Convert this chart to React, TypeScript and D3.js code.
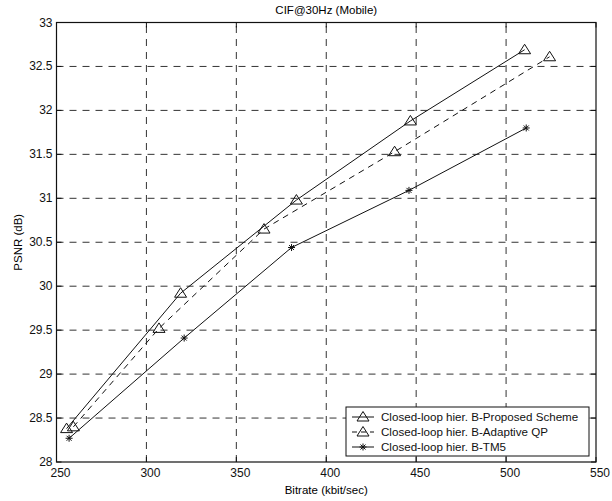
import * as d3 from "d3";

// values
const proposedX = [255.6, 319, 383.4, 446.8, 510.3];
const proposedY = [28.38, 29.92, 30.98, 31.88, 32.69];
const adaptiveX = [259.4, 307, 365.4, 438, 524.2];
const adaptiveY = [28.4, 29.52, 30.65, 31.53, 32.61];
const tm5X = [257, 321, 380.7, 446, 511.2];
const tm5Y = [28.27, 29.41, 30.44, 31.09, 31.8];

const xTicks = [250, 300, 350, 400, 450, 500, 550];
const yTicks = [28, 28.5, 29, 29.5, 30, 30.5, 31, 31.5, 32, 32.5, 33];

const legendLabels = [
  "Closed-loop hier. B-Proposed Scheme",
  "Closed-loop hier. B-Adaptive QP",
  "Closed-loop hier. B-TM5",
];

const W = 612;
const H = 501;
const margin = { top: 22.5, bottom: 39, left: 56.5, right: 16 };
const font = "'Liberation Sans', Arial, sans-serif";

const Triangle = ({ x, y }: { x: number; y: number }) => (
  <path d={`M${x},${y - 5.5} L${x + 6},${y + 4} L${x - 6},${y + 4} Z`} fill="none" stroke="#111" strokeWidth={1} />
);

const Star = ({ x, y }: { x: number; y: number }) => (
  <g stroke="#111" strokeWidth={1}>
    <line x1={x - 3.5} y1={y} x2={x + 3.5} y2={y} />
    <line x1={x} y1={y - 3.5} x2={x} y2={y + 3.5} />
    <line x1={x - 2.5} y1={y - 2.5} x2={x + 2.5} y2={y + 2.5} />
    <line x1={x - 2.5} y1={y + 2.5} x2={x + 2.5} y2={y - 2.5} />
  </g>
);

export default function App() {
  const x = d3.scaleLinear().domain([250, 550]).range([margin.left, W - margin.right]);
  const y = d3.scaleLinear().domain([28, 33]).range([H - margin.bottom, margin.top]);

  const line = d3.line<[number, number]>().x(d => x(d[0])).y(d => y(d[1]));
  const proposed = proposedX.map((v, i) => [v, proposedY[i]] as [number, number]);
  const adaptive = adaptiveX.map((v, i) => [v, adaptiveY[i]] as [number, number]);
  const tm5 = tm5X.map((v, i) => [v, tm5Y[i]] as [number, number]);

  const x0 = x.range()[0], x1 = x.range()[1];
  const y0 = y.range()[0], y1 = y.range()[1];

  // legend box
  const lg = { left: 346, top: 407, width: 243, height: 49 };

  return (
    <svg width={W} height={H} style={{ position: "absolute", left: 0, top: 0, background: "#fff" }} fontFamily={font}>
      {/* grid */}
      <g stroke="#333" strokeWidth={1} strokeDasharray="7,6">
        {xTicks.slice(1, -1).map(t => (
          <line key={"gx" + t} x1={x(t)} x2={x(t)} y1={y0} y2={y1} />
        ))}
        {yTicks.slice(1, -1).map(t => (
          <line key={"gy" + t} x1={x0} x2={x1} y1={y(t)} y2={y(t)} />
        ))}
      </g>
      {/* ticks */}
      <g stroke="#111" strokeWidth={1}>
        {xTicks.map(t => (
          <g key={"tx" + t}>
            <line x1={x(t)} x2={x(t)} y1={y0} y2={y0 - 5} />
            <line x1={x(t)} x2={x(t)} y1={y1} y2={y1 + 5} />
          </g>
        ))}
        {yTicks.map(t => (
          <g key={"ty" + t}>
            <line x1={x0} x2={x0 + 5} y1={y(t)} y2={y(t)} />
            <line x1={x1} x2={x1 - 5} y1={y(t)} y2={y(t)} />
          </g>
        ))}
      </g>
      <rect x={x0} y={y1} width={x1 - x0} height={y0 - y1} fill="none" stroke="#111" strokeWidth={1.2} />

      {/* series */}
      <path d={line(proposed) || ""} fill="none" stroke="#111" strokeWidth={1} />
      <path d={line(adaptive) || ""} fill="none" stroke="#111" strokeWidth={1} strokeDasharray="6,5" />
      <path d={line(tm5) || ""} fill="none" stroke="#111" strokeWidth={1} />
      {proposed.map((d, i) => <Triangle key={"p" + i} x={x(d[0])} y={y(d[1])} />)}
      {adaptive.map((d, i) => <Triangle key={"a" + i} x={x(d[0])} y={y(d[1])} />)}
      {tm5.map((d, i) => <Star key={"t" + i} x={x(d[0])} y={y(d[1])} />)}

      {/* tick labels */}
      <g fontSize={12} fill="#111">
        {xTicks.map(t => (
          <text key={"lx" + t} x={x(t) + 4} y={y0 + 15} textAnchor="middle">{t}</text>
        ))}
        {yTicks.map(t => (
          <text key={"ly" + t} x={x0 - 4} y={y(t) + 4} textAnchor="end">{t}</text>
        ))}
      </g>

      {/* titles */}
      <text x={(x0 + x1) / 2} y={14} textAnchor="middle" fontSize={11.5}>CIF@30Hz (Mobile)</text>
      <text x={(x0 + x1) / 2} y={494} textAnchor="middle" fontSize={11.5}>Bitrate (kbit/sec)</text>
      <text transform={`translate(22,${(y0 + y1) / 2}) rotate(-90)`} textAnchor="middle" fontSize={11.5}>PSNR (dB)</text>

      {/* legend */}
      <rect x={lg.left} y={lg.top} width={lg.width} height={lg.height} fill="#fff" stroke="#111" strokeWidth={1} />
      {legendLabels.map((label, i) => {
        const cy = lg.top + 10 + i * 15;
        return (
          <g key={label}>
            <line x1={lg.left + 6} x2={lg.left + 28} y1={cy} y2={cy} stroke="#111" strokeWidth={1}
              strokeDasharray={i === 1 ? "5,4" : undefined} />
            {i < 2 ? <Triangle x={lg.left + 17} y={cy} /> : <Star x={lg.left + 17} y={cy} />}
            <text x={lg.left + 35} y={cy + 4} fontSize={11.6} fill="#111">{label}</text>
          </g>
        );
      })}
    </svg>
  );
}
